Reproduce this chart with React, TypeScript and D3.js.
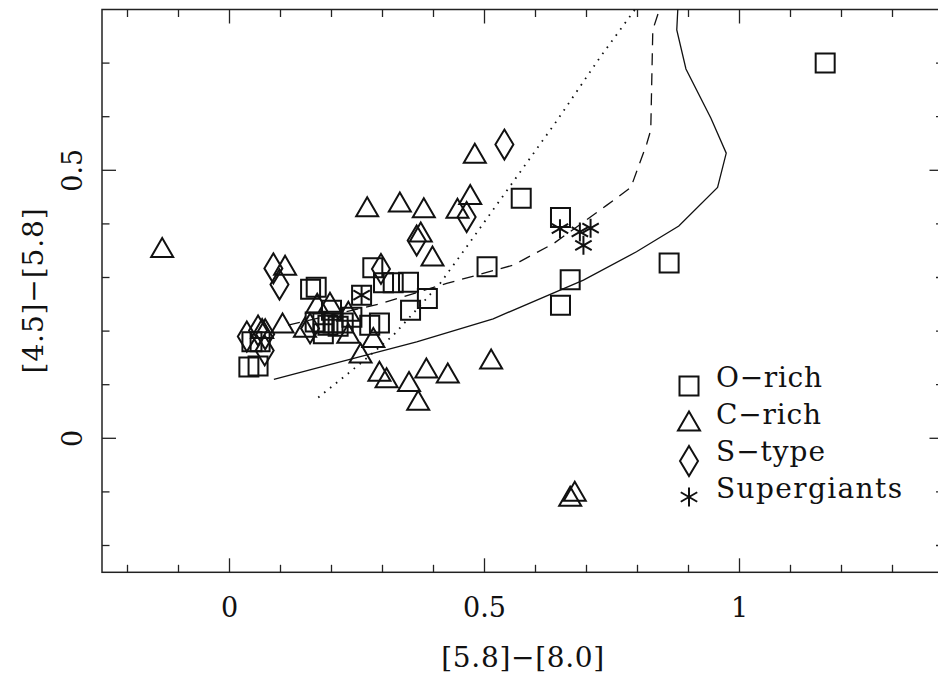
import React from "react";
import * as d3 from "d3";

// O-rich stars (squares)
const oRichX = [1.168, 0.572, 0.649, 0.862, 0.668, 0.649, 0.505, 0.388, 0.355, 0.281, 0.302, 0.321, 0.351, 0.259, 0.159, 0.17, 0.275, 0.294, 0.168, 0.183, 0.193, 0.203, 0.213, 0.223, 0.24, 0.184, 0.2, 0.044, 0.06, 0.038, 0.056];
const oRichY = [0.7, 0.448, 0.412, 0.327, 0.296, 0.248, 0.32, 0.261, 0.239, 0.318, 0.29, 0.29, 0.291, 0.267, 0.278, 0.282, 0.211, 0.215, 0.217, 0.215, 0.211, 0.215, 0.209, 0.215, 0.226, 0.195, 0.239, 0.18, 0.18, 0.133, 0.135];

// C-rich stars (triangles)
const cRichX = [-0.132, 0.481, 0.472, 0.27, 0.334, 0.381, 0.447, 0.375, 0.398, 0.109, 0.104, 0.148, 0.172, 0.197, 0.233, 0.233, 0.282, 0.257, 0.294, 0.308, 0.352, 0.386, 0.428, 0.37, 0.513, 0.668, 0.677, 0.064];
const cRichY = [0.356, 0.532, 0.455, 0.432, 0.441, 0.43, 0.429, 0.385, 0.34, 0.323, 0.215, 0.207, 0.252, 0.254, 0.237, 0.196, 0.188, 0.159, 0.125, 0.113, 0.106, 0.131, 0.122, 0.071, 0.148, -0.108, -0.099, 0.205];

// S-type stars (diamonds)
const sTypeX = [0.539, 0.465, 0.367, 0.297, 0.086, 0.098, 0.034, 0.056, 0.07, 0.069, 0.158];
const sTypeY = [0.548, 0.413, 0.369, 0.316, 0.317, 0.287, 0.19, 0.201, 0.194, 0.164, 0.205];

// supergiants (asterisks)
const superX = [0.259, 0.648, 0.687, 0.708, 0.694];
const superY = [0.267, 0.391, 0.385, 0.392, 0.36];

// model curves
const solidX = [0.087, 0.191, 0.367, 0.517, 0.694, 0.798, 0.881, 0.957, 0.974, 0.944, 0.895, 0.877, 0.879];
const solidY = [0.11, 0.136, 0.18, 0.223, 0.295, 0.348, 0.396, 0.468, 0.532, 0.597, 0.689, 0.762, 0.8];
const dashedX = [0.115, 0.295, 0.426, 0.556, 0.635, 0.74, 0.787, 0.818, 0.826, 0.83, 0.843];
const dashedY = [0.211, 0.251, 0.289, 0.323, 0.363, 0.435, 0.468, 0.549, 0.575, 0.762, 0.8];
const dottedX = [0.174, 0.256, 0.321, 0.413, 0.458, 0.64, 0.726, 0.795];
const dottedY = [0.076, 0.139, 0.192, 0.289, 0.348, 0.59, 0.71, 0.8];

const xMajor = [0, 0.5, 1];
const xLabels = ["0", "0.5", "1"];
const yMajor = [0, 0.5];
const yLabels = ["0", "0.5"];
const legendLabels = ["O\u2212rich", "C\u2212rich", "S\u2212type", "Supergiants"];

const W = 938;
const H = 681;
const FONT = '"DejaVu Serif", serif';

const x = d3.scaleLinear().domain([-0.25, 1.4]).range([102, 943.5]);
const y = d3.scaleLinear().domain([-0.25, 0.8]).range([572.3, 9.5]);

const square = "M-9.5,-9.5h19v19h-19Z";
const triangle = "M0,-9.5L11,9.5L-11,9.5Z";
const diamond = "M0,-15L9,0L0,15L-9,0Z";
const asterisk = (() => {
  const r = 9.5;
  const u = r * Math.cos(Math.PI / 6);
  const t = r / 2;
  return `M0,${-r}V${r}M${-u},${-t}L${u},${t}M${-u},${t}L${u},${-t}`;
})();

const line = (xs: number[], ys: number[]) =>
  d3.line<number>().x((d) => x(xs[d])).y((d) => y(ys[d]))(d3.range(xs.length)) || "";

const Markers = ({ xs, ys, d }: { xs: number[]; ys: number[]; d: string }) => (
  <g>
    {xs.map((v, i) => (
      <path key={i} d={d} transform={`translate(${x(v)},${y(ys[i])})`} fill="none" stroke="#111" strokeWidth={2} />
    ))}
  </g>
);

export default function App() {
  const [x0, x1] = x.range();
  const [y0, y1] = y.range();
  const xMinor = d3.range(-2, 14).map((v) => v / 10).filter((v) => !xMajor.includes(v));
  const yMinor = d3.range(-2, 8).map((v) => v / 10).filter((v) => !yMajor.includes(v));
  const legendSymbols = [square, triangle, diamond, asterisk];
  const legendSymY = [386, 421, 461, 497];
  const legendTextY = [387, 424, 461, 498];
  const legendWidths = [106, 105, 109, 186];
  const textStyle = { fontFamily: FONT, fontWeight: 300 };

  return (
    <svg width={W} height={H} style={{ position: "absolute", left: 0, top: 0, background: "#fff" }}>
      <rect width={W} height={H} fill="#fff" />
      {/* frame */}
      <rect x={x0} y={y1} width={x1 - x0} height={y0 - y1} fill="none" stroke="#222" strokeWidth={1.5} />

      {/* ticks */}
      <g stroke="#222" strokeWidth={1.3}>
        {xMinor.map((v) => (
          <g key={"xm" + v}>
            <line x1={x(v)} x2={x(v)} y1={y0} y2={y0 - 7.5} />
            <line x1={x(v)} x2={x(v)} y1={y1} y2={y1 + 7.5} />
          </g>
        ))}
        {xMajor.map((v) => (
          <g key={"xM" + v}>
            <line x1={x(v)} x2={x(v)} y1={y0} y2={y0 - 14} />
            <line x1={x(v)} x2={x(v)} y1={y1} y2={y1 + 14} />
          </g>
        ))}
        {yMinor.map((v) => (
          <g key={"ym" + v}>
            <line x1={x0} x2={x0 + 7.5} y1={y(v)} y2={y(v)} />
            <line x1={x1} x2={x1 - 7.5} y1={y(v)} y2={y(v)} />
          </g>
        ))}
        {yMajor.map((v) => (
          <g key={"yM" + v}>
            <line x1={x0} x2={x0 + 14} y1={y(v)} y2={y(v)} />
            <line x1={x1} x2={x1 - 14} y1={y(v)} y2={y(v)} />
          </g>
        ))}
      </g>

      {/* tick labels */}
      <g style={textStyle} fontSize={27} fill="#111">
        {xMajor.map((v, i) => (
          <text key={"xl" + v} x={x(v)} y={617} textAnchor="middle">
            {xLabels[i]}
          </text>
        ))}
        {yMajor.map((v, i) => (
          <text key={"yl" + v} transform={`translate(82,${y(v)}) rotate(-90)`} textAnchor="middle">
            {yLabels[i]}
          </text>
        ))}
      </g>

      {/* axis titles */}
      <g style={textStyle} fontSize={28} fill="#111">
        <text x={(x0 + x1) / 2} y={667} textAnchor="middle" textLength={163} lengthAdjust="spacing">
          [5.8]{"\u2212"}[8.0]
        </text>
        <text transform={`translate(43,${(y0 + y1) / 2}) rotate(-90)`} textAnchor="middle" textLength={165} lengthAdjust="spacing">
          [4.5]{"\u2212"}[5.8]
        </text>
      </g>

      {/* model curves */}
      <g fill="none" stroke="#111" strokeWidth={1.3}>
        <path d={line(solidX, solidY)} />
        <path d={line(dashedX, dashedY)} strokeDasharray="12 8" />
        <path d={line(dottedX, dottedY)} strokeDasharray="1.6 6" strokeWidth={1.8} />
      </g>

      <Markers xs={oRichX} ys={oRichY} d={square} />
      <Markers xs={cRichX} ys={cRichY} d={triangle} />
      <Markers xs={sTypeX} ys={sTypeY} d={diamond} />
      <Markers xs={superX} ys={superY} d={asterisk} />

      {/* legend */}
      <g>
        {legendLabels.map((lab, i) => (
          <g key={lab}>
            <path d={legendSymbols[i]} transform={`translate(689,${legendSymY[i]})`} fill="none" stroke="#111" strokeWidth={2} />
            <text x={716} y={legendTextY[i]} style={textStyle} fontSize={28} fill="#111" textLength={legendWidths[i]} lengthAdjust="spacing">
              {lab}
            </text>
          </g>
        ))}
      </g>
    </svg>
  );
}
